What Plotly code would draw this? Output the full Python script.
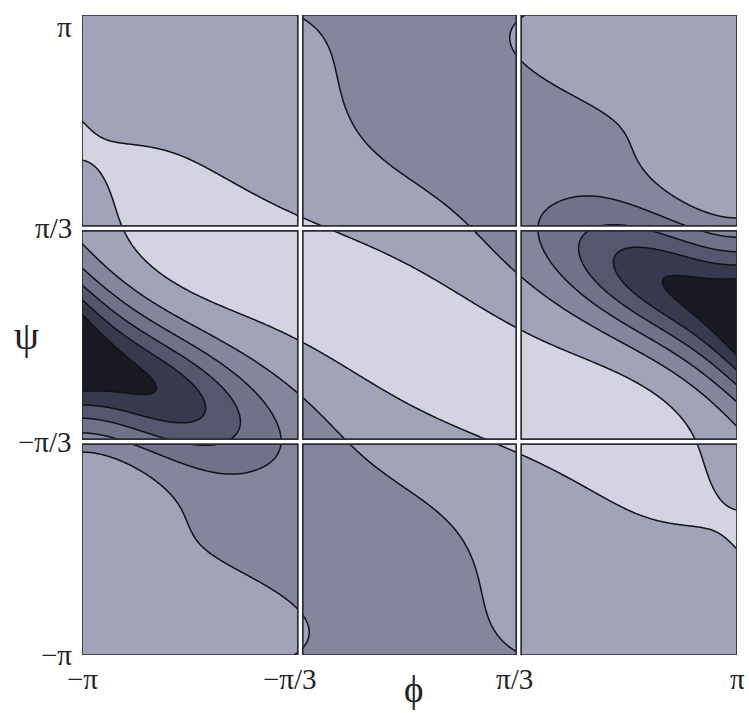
import numpy as np
import plotly.graph_objects as go

PI = np.pi

# Traced contour crossings, (phi/pi, psi/pi), one list per contour value.
level_0 = [(-0.98, 0.54), (-0.945, 0.61), (-0.915, 0.625), (-0.87, 0.615), (-0.79, 0.59),
           (-0.71, 0.55), (-0.64, 0.51),
           (-0.49, 0.42), (-0.34, 0.36), (-0.26, 0.33), (0.03, 0.19), (0.33, 0.05),
           (0.58, -0.16), (0.82, -0.33), (0.91, -0.41), (0.95, -0.56), (0.90, -0.65),
           (0.76, -0.61), (0.55, -0.52), (0.33, -0.39), (0.15, -0.32), (-0.09, -0.20),
           (-0.33, -0.09), (-0.45, 0.0), (-0.53, 0.06), (-0.62, 0.13), (-0.76, 0.21),
           (-0.90, 0.33), (-0.96, 0.42)]
level_m1 = [(-0.32, 0.99), (-0.26, 0.87), (-0.19, 0.76), (-0.09, 0.62), (0.01, 0.49),
            (0.06, 0.42), (0.12, 0.35), (0.25, 0.24), (0.35, 0.13), (0.47, 0.065),
            (0.58, 0.00), (0.83, -0.14),
            (0.31, 0.99), (0.34, 0.89), (0.42, 0.81), (0.50, 0.73), (0.55, 0.675),
            (0.60, 0.62), (0.67, 0.555), (0.75, 0.49), (0.84, 0.42), (0.92, 0.35),
            (1.0, 0.32), (-1.0, 0.28), (-1.0, -0.335), (-0.34, -0.16)]
level_m2 = [(-1.0, 0.20), (-0.70, -0.07), (-0.411, -0.3375), (-0.416, -0.36), (-0.48, -0.43),
            (-0.60, -0.444), (-1.0, -0.30), (0.377, 0.3125), (0.475, 0.416), (0.58, 0.4125),
            (0.734, 0.391), (0.902, 0.35)]
level_m3 = [(-1.0, 0.156), (-0.78, -0.03), (-0.554, -0.225), (0.521, 0.234), (-1.0, -0.27)]
level_m4 = [(-1.0, 0.119), (-0.82, -0.04), (-0.646, -0.194), (0.612, 0.181), (-1.0, -0.24)]
level_m5 = [(-1.0, 0.084), (-0.87, -0.045), (-0.737, -0.1625), (0.695, 0.14), (-1.0, -0.20)]

# Shade read along rows psi/pi = 1, 5/6, ..., 0 at phi/pi = -1, -5/6, ..., 1
cols = [-1, -5/6, -2/3, -1/2, -1/3, -1/6, 0, 1/6, 1/3, 1/2, 2/3, 5/6, 1]
row_1 = [-0.5, -0.5, -0.55, -0.65, -0.95, -1.35, -1.5, -1.4, -1.05, -0.7, -0.55, -0.5, -0.5]
row_5_6 = [-0.45, -0.4, -0.45, -0.55, -0.8, -1.2, -1.45, -1.55, -1.25, -0.75, -0.55, -0.5, -0.45]
row_2_3 = [-0.3, -0.12, -0.25, -0.4, -0.55, -0.8, -1.25, -1.5, -1.6, -1.2, -0.75, -0.55, -0.45]
row_1_2 = [-0.1, 0.3, 0.05, -0.19, -0.46, -0.73, -0.99, -1.35, -1.65, -1.8, -1.5, -0.8, -0.6]
row_1_3 = [-0.8, 0.2, 0.4, 0.3, 0.1, -0.25, -0.66, -1.15, -1.85, -2.4, -2.5, -2.3, -0.95]
row_1_6 = [-2.75, -0.85, 0.02, 0.35, 0.55, 0.55, 0.35, -0.37, -1.1, -2.0, -4.8, -5.1, -5.0]
row_0 = [-5.4, -3.3, -1.45, -0.6, 0.1, 0.45, 0.7, 0.45, 0.1, -0.6, -1.4, -3.2, -5.4]
rows_psi = [1, 5/6, 2/3, 1/2, 1/3, 1/6, 0]
shade_rows = [row_1, row_5_6, row_2_3, row_1_2, row_1_3, row_1_6, row_0]

# extra shade spots, (phi/pi, psi/pi, value)
spots = [(-0.93, 0.5, 0.1), (-0.85, 0.45, 0.3), (-0.75, 0.4, 0.4), (-0.6, 0.33, 0.45),
         (-0.4, 0.22, 0.5), (-0.2, 0.1, 0.6),
         (-0.8, 0.185, -0.5), (-0.6, 0.063, -0.5), (-0.4, -0.07, -0.5),
         (-0.8, 0.07, -1.5), (-0.6, -0.076, -1.5), (-0.6, -0.53, -1.5), (-0.8, -0.41, -1.5),
         (0.15, 0.75, -1.55), (-0.95, 0.0, -5.3), (-0.85, -0.12, -5.2),
         (-0.95, -0.15, -5.35), (-1.0, -0.066, -5.6), (-0.9, -0.1, -5.4),
         (-0.8, -0.15, -5.1), (1.0, 0.55, -0.55), (1.0, 0.45, -0.7), (0.97, 0.62, -0.5),
         (0.93, 0.52, -0.65), (-1.0, 0.54, -0.12), (-1.0, 0.47, -0.2), (-1.0, 0.6, -0.18),
         (-1.0, 0.8, -0.4)]

# Surface model: smooth cosine background plus a flat-topped ridge, paired wells and
# the valley arms running from each well, all even under (phi, psi) -> (-phi, -psi).
steps = np.arange(-1.5, 1.51, 0.5)
freq = [(m, n) for m in np.arange(0.0, 1.51, 0.5) for n in steps if m > 0 or n >= 0]
fm = np.array([f[0] for f in freq])
fn = np.array([f[1] for f in freq])

well_c = (-PI, -0.066 * PI)
well_ang = np.arctan2(-0.853, 1.85)
arm_c = (0.26 * PI, 0.66 * PI)
arm_ang = np.arctan2(0.65, -0.52)
arm2_c = (0.6 * PI, 0.3 * PI)
arm2_ang = np.arctan2(0.6, -1.0)
ridge_ang = np.arctan2(-0.57, 1.0)
shapes_def = [  # (paired, centre, angle, length, width, power)
    (True, well_c, well_ang, 1.3, 0.45, 2),
    (True, well_c, well_ang, 1.0, 0.5, 2),
    (True, well_c, well_ang, 1.7, 0.75, 2),
    (True, well_c, well_ang, 2.6, 1.1, 2),
    (True, arm_c, arm_ang, 1.6, 0.55, 2),
    (True, arm_c, arm_ang, 2.2, 0.9, 2),
    (True, arm2_c, arm2_ang, 1.2, 0.5, 2),
    (False, (0.0, 0.0), ridge_ang, 3.6, 0.7, 4),
    (False, (0.0, 0.0), ridge_ang, 4.0, 1.1, 2),
]


def bump(p, q, c, ang, ls, lt, pw):
    dp, dq = p - c[0], q - c[1]
    s = dp * np.cos(ang) + dq * np.sin(ang)
    t = -dp * np.sin(ang) + dq * np.cos(ang)
    return np.exp(-np.abs(s / ls) ** pw - (t / lt) ** 2)


def basis(p, q):
    p = np.asarray(p, float)
    q = np.asarray(q, float)
    out = [np.cos(m * p + n * q) for m, n in zip(fm, fn)]
    for paired, c, ang, ls, lt, pw in shapes_def:
        b = bump(p, q, c, ang, ls, lt, pw)
        if paired:
            b = b + bump(p, q, (-c[0], -c[1]), ang, ls, lt, pw)
        out.append(b)
    return np.stack(out, axis=-1)


pts, target, weight = [], [], []
for value, lst in [(0, level_0), (-1, level_m1), (-2, level_m2), (-3, level_m3),
                   (-4, level_m4), (-5, level_m5)]:
    for a, b in lst:
        pts.append((a, b)); target.append(value); weight.append(2.5)
for b, row in zip(rows_psi, shade_rows):
    for a, v in zip(cols, row):
        pts.append((a, b)); target.append(v); weight.append(1.0)
for a, b, v in spots:
    pts.append((a, b)); target.append(v); weight.append(1.5)

pts = np.array(pts) * PI
w = np.array(weight)
A = basis(pts[:, 0], pts[:, 1]) * w[:, None]
t = np.array(target) * w
nc = len(fm)
reg = np.concatenate([1e-3 * (fm ** 2 + fn ** 2) ** 2 + 1e-5,
                      np.full(A.shape[1] - nc, 1e-4)])
coef = np.linalg.solve(A.T @ A + np.diag(reg), A.T @ t)

phi = np.linspace(-PI, PI, 361)
psi = np.linspace(-PI, PI, 361)
P, Q = np.meshgrid(phi, psi)
Z = basis(P, Q) @ coef

band_colors = ['#191924', '#38384e', '#56566e', '#71718a', '#85859d', '#a2a2b8', '#d3d3e1']
nb = len(band_colors)
scale = [[k / (nb - 1), c] for k, c in enumerate(band_colors)]

fig = go.Figure(go.Contour(
    x=phi, y=psi, z=Z,
    contours=dict(start=-5, end=0, size=1, coloring='fill'),
    zmin=-5.5, zmax=0.5, colorscale=scale, showscale=False,
    line=dict(color='#111118', width=1.5),
    hoverinfo='skip',
))

# panel frames and white gutters at +-pi/3
third = PI / 3
edges = [-PI, -third, third, PI]
gx, gy = 2.5 * 2 * PI / 655, 2.5 * 2 * PI / 640
frame = []
for v in (-third, third):
    frame.append(dict(type='line', x0=v, x1=v, y0=-PI, y1=PI,
                      line=dict(color='white', width=5), layer='above'))
    frame.append(dict(type='line', x0=-PI, x1=PI, y0=v, y1=v,
                      line=dict(color='white', width=5), layer='above'))
for i in range(3):
    for j in range(3):
        x0 = edges[i] + (gx if i > 0 else 0)
        x1 = edges[i + 1] - (gx if i < 2 else 0)
        y0 = edges[j] + (gy if j > 0 else 0)
        y1 = edges[j + 1] - (gy if j < 2 else 0)
        frame.append(dict(type='rect', x0=x0, x1=x1, y0=y0, y1=y1,
                          line=dict(color='#2c2c3c', width=1.7), layer='above'))

font = 'Liberation Serif'
tick_pos = [-PI, -third, third, PI]
tick_txt = ['\u2212\u03c0', '\u2212\u03c0/3', '\u03c0/3', '\u03c0']
bottom_shift = [0, -10, -4, 0]
ann = []
for v, s, dx in zip(tick_pos, tick_txt, bottom_shift):
    ann.append(dict(x=v, y=0, xref='x', yref='paper', text=s, showarrow=False,
                    xanchor='center', yanchor='top', yshift=-6, xshift=dx,
                    font=dict(family=font, size=29, color='#222')))
    yv = v if v < PI else PI - 0.12
    ann.append(dict(x=0, y=yv, xref='paper', yref='y', text=s, showarrow=False,
                    xanchor='right', yanchor='middle', xshift=-8,
                    font=dict(family=font, size=29, color='#222')))
ann.append(dict(x=0, y=0, xref='paper', yref='y', text='\u03c8', showarrow=False,
                xanchor='center', yanchor='middle', xshift=-56,
                font=dict(family=font, size=40, color='#222')))
ann.append(dict(x=0.04, y=0, xref='x', yref='paper', text='\u03d5', showarrow=False,
                xanchor='center', yanchor='top', yshift=-12,
                font=dict(family=font, size=37, color='#222')))

fig.update_layout(
    width=749, height=713, margin=dict(l=82, r=12, t=15, b=58),
    paper_bgcolor='white', plot_bgcolor='white',
    xaxis=dict(range=[-PI, PI], showgrid=False, zeroline=False, showticklabels=False,
               ticks='', showline=False),
    yaxis=dict(range=[-PI, PI], showgrid=False, zeroline=False, showticklabels=False,
               ticks='', showline=False),
    shapes=frame, annotations=ann, showlegend=False,
)
fig.write_html('out.html')
